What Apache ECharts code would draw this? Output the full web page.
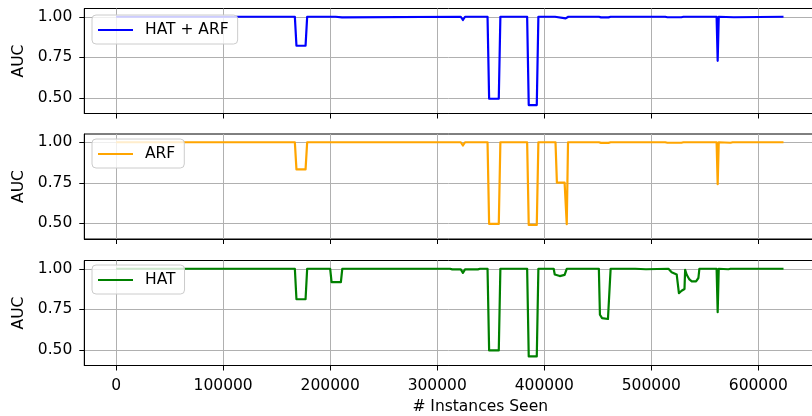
<!DOCTYPE html>
<html>
<head>
<meta charset="utf-8">
<script src="https://cdn.jsdelivr.net/npm/echarts@6/dist/echarts.min.js"></script>
<style>
html,body{margin:0;padding:0;background:#fff;overflow:hidden;}
#chart{width:812px;height:416px;}
</style>
</head>
<body>
<div id="chart"></div>
<script>
// ---- data ----
const seriesNames = ['HAT + ARF', 'ARF', 'HAT'];
const seriesColors = ['#0000ff', '#ffa500', '#008000'];

const hatArfX = [0, 167000, 168500, 177000, 178500, 205000, 206000, 211000, 212000, 322000, 324000, 326000, 347000, 348500, 357500, 359000, 384000, 385500, 393000, 394500, 410000, 411500, 420000, 421000, 422500, 451000, 453000, 460000, 462000, 513000, 515000, 528000, 530000, 561000, 562000, 563000, 564000, 577000, 578000, 623500];
const hatArfY = [1.0, 1.0, 0.821, 0.821, 1.0, 1.0, 0.996, 0.996, 1.0, 1.0, 0.98, 1.0, 1.0, 0.494, 0.494, 1.0, 1.0, 0.455, 0.455, 1.0, 1.0, 0.99, 0.99, 0.98, 1.0, 1.0, 0.996, 0.996, 1.0, 1.0, 0.997, 0.997, 1.0, 1.0, 0.728, 1.0, 0.997, 0.997, 1.0, 1.0];

const arfX = [0, 167000, 168500, 177000, 178500, 322000, 324000, 326000, 347000, 348500, 357500, 359000, 384000, 385500, 393000, 394500, 410500, 411800, 419000, 420000, 421000, 422200, 451000, 453000, 460000, 462000, 513000, 515000, 528000, 530000, 561000, 562000, 563000, 564000, 574000, 576000, 623500];
const arfY = [1.0, 1.0, 0.833, 0.833, 1.0, 1.0, 0.98, 1.0, 1.0, 0.496, 0.496, 1.0, 1.0, 0.49, 0.49, 1.0, 1.0, 0.751, 0.751, 0.75, 0.494, 1.0, 1.0, 0.996, 0.996, 1.0, 1.0, 0.997, 0.997, 1.0, 1.0, 0.741, 1.0, 0.997, 0.997, 1.0, 1.0];

const hatX = [0, 167000, 168500, 177000, 178500, 200000, 201300, 210000, 211300, 312000, 314000, 322000, 324000, 326000, 338000, 340000, 347000, 348500, 357500, 359000, 384000, 385500, 393000, 394500, 408800, 409800, 411000, 414500, 415500, 419000, 420000, 421000, 451000, 452000, 454000, 459500, 461000, 462000, 485000, 486000, 495000, 496000, 516000, 519000, 523700, 524600, 525800, 528300, 529400, 531000, 531600, 533100, 535600, 537800, 541800, 544000, 544900, 561000, 562000, 563000, 564000, 572000, 574000, 623500];
const hatY = [1.0, 1.0, 0.812, 0.812, 1.0, 1.0, 0.917, 0.917, 1.0, 1.0, 0.996, 0.996, 0.975, 0.996, 0.996, 1.0, 1.0, 0.496, 0.496, 1.0, 1.0, 0.459, 0.459, 1.0, 1.0, 0.965, 0.955, 0.955, 0.962, 0.962, 0.97, 1.0, 1.0, 0.716, 0.695, 0.69, 0.7, 1.0, 1.0, 0.997, 0.997, 1.0, 1.0, 0.979, 0.965, 0.958, 0.849, 0.864, 0.875, 0.875, 0.994, 0.963, 0.934, 0.922, 0.922, 0.943, 1.0, 1.0, 0.732, 1.0, 0.997, 0.997, 1.0, 1.0];

const xTicks = [0, 100000, 200000, 300000, 400000, 500000, 600000, 700000];
const yTicks = [0.5, 0.75, 1.0];

// ---- chart ----
const seriesX = [hatArfX, arfX, hatX];
const seriesY = [hatArfY, arfY, hatY];
const gridTops = [8.5, 134, 260.5];
const legendTops = [15, 139, 265];
const FONT = 'DejaVu Sans';
const FS = 15.5;

const chart = echarts.init(document.getElementById('chart'), null, {renderer: 'canvas'});

const grids = [], xAxes = [], yAxes = [], series = [], legends = [];
for (let i = 0; i < 3; i++) {
  grids.push({left: 84.3, top: gridTops[i], width: 791.8, height: 105, show: true,
    borderColor: '#000', borderWidth: 1, backgroundColor: 'transparent',
    containLabel: false, outerBoundsMode: 'none'});
  xAxes.push({
    type: 'value', gridIndex: i, min: -29700, max: 710000,
    axisLine: {show: true, onZero: false, lineStyle: {color: '#000', width: 1}},
    axisTick: {show: true, inside: false, length: 5, lineStyle: {color: '#000', width: 1}, customValues: xTicks},
    axisLabel: {show: i === 2, customValues: xTicks, margin: 12, color: '#000', fontFamily: FONT, fontSize: FS,
      formatter: v => String(v)},
    splitLine: {show: true, lineStyle: {color: '#b0b0b0', width: 1}},
    name: i === 2 ? '# Instances Seen' : '', nameLocation: 'middle', nameGap: 33,
    nameTextStyle: {color: '#000', fontFamily: FONT, fontSize: FS}
  });
  yAxes.push({
    type: 'value', gridIndex: i, min: 0.403, max: 1.051,
    axisLine: {show: true, onZero: false, lineStyle: {color: '#000', width: 1}},
    axisTick: {show: true, inside: false, length: 5, lineStyle: {color: '#000', width: 1}, customValues: yTicks},
    axisLabel: {show: true, customValues: yTicks, margin: 12, color: '#000', fontFamily: FONT, fontSize: FS,
      formatter: v => v.toFixed(2)},
    splitLine: {show: true, lineStyle: {color: '#b0b0b0', width: 1}},
    name: 'AUC', nameLocation: 'middle', nameGap: 51, nameRotate: 90,
    nameTextStyle: {color: '#000', fontFamily: FONT, fontSize: FS}
  });
  series.push({
    name: seriesNames[i], type: 'line', xAxisIndex: i, yAxisIndex: i,
    data: seriesX[i].map((x, k) => [x, seriesY[i][k]]),
    symbol: 'none', showSymbol: false, color: seriesColors[i],
    lineStyle: {color: seriesColors[i], width: 2.2, join: 'round'},
    z: 3, clip: true
  });
  legends.push({
    data: [seriesNames[i]], left: 92, top: legendTops[i], orient: 'horizontal',
    icon: 'rect', itemWidth: 35, itemHeight: 2.2,
    padding: [6, 9, 5, 6], backgroundColor: 'rgba(255,255,255,0.8)',
    borderColor: '#cccccc', borderWidth: 1, borderRadius: 4,
    textStyle: {color: '#000', fontFamily: FONT, fontSize: FS, lineHeight: 18, padding: [0, 0, 0, 7]},
    selectedMode: false, z: 10
  });
}

chart.setOption({
  animation: false,
  backgroundColor: '#fff',
  grid: grids, xAxis: xAxes, yAxis: yAxes, series: series, legend: legends
});
</script>
</body>
</html>
